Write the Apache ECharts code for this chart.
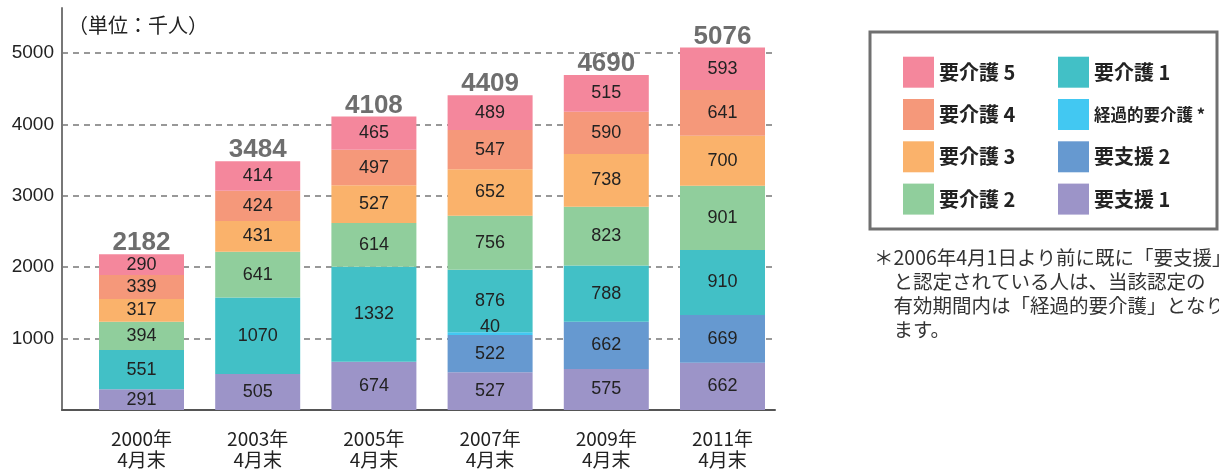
<!DOCTYPE html>
<html>
<head>
<meta charset="utf-8">
<script src="https://cdn.jsdelivr.net/npm/echarts@6/dist/echarts.min.js"></script>
<style>
  html, body { margin: 0; padding: 0; background: #fff; }
  #main { width: 1219px; height: 471px; }
</style>
</head>
<body>
<div id="main"></div>
<script>
  // 年度
  var categories = ['2000年\n4月末', '2003年\n4月末', '2005年\n4月末', '2007年\n4月末', '2009年\n4月末', '2011年\n4月末'];
  // 各区分の人数（千人）
  var shien1 = [291, 505, 674, 527, 575, 662];
  var shien2 = [null, null, null, 522, 662, 669];
  var keika = [null, null, null, 40, null, null];
  var kaigo1 = [551, 1070, 1332, 876, 788, 910];
  var kaigo2 = [394, 641, 614, 756, 823, 901];
  var kaigo3 = [317, 431, 527, 652, 738, 700];
  var kaigo4 = [339, 424, 497, 547, 590, 641];
  var kaigo5 = [290, 414, 465, 489, 515, 593];
  var totals = [2182, 3484, 4108, 4409, 4690, 5076];
  var yTicks = [1000, 2000, 3000, 4000, 5000];

  var FONT = '"Liberation Sans", "Noto Sans CJK JP", sans-serif';
  var JP = '"Noto Sans CJK JP", "Liberation Sans", sans-serif';

  function seg(name, color, data, pos) {
    return {
      name: name,
      type: 'bar',
      stack: 'total',
      xAxisIndex: 1,
      yAxisIndex: 1,
      barWidth: 85,
      itemStyle: { color: color },
      label: {
        show: true,
        position: pos || 'inside',
        distance: 0,
        offset: pos ? [0, 4] : [0, 0],
        color: '#222',
        fontSize: 18,
        fontFamily: FONT,
        formatter: function (p) {
          return p.value > 0 ? p.value : '';
        }
      },
      data: data
    };
  }

  var myChart = echarts.init(document.getElementById('main'));

  var option = {
    animation: false,
    grid: [
      { left: 62, right: 444, top: 8, bottom: 61 },
      { left: 83.4, width: 697.2, top: 8, bottom: 61 }
    ],
    xAxis: [{
      gridIndex: 0,
      type: 'value',
      min: 0,
      max: 1,
      axisLine: { show: true, lineStyle: { color: '#555', width: 2 } },
      axisTick: { show: false },
      axisLabel: { show: false },
      splitLine: { show: false }
    }, {
      gridIndex: 1,
      type: 'category',
      data: categories,
      axisLine: { show: false },
      axisTick: { show: false },
      axisLabel: {
        color: '#222',
        fontSize: 19,
        lineHeight: 21,
        margin: 18,
        fontFamily: JP
      }
    }],
    yAxis: [{
      gridIndex: 0,
      type: 'value',
      min: 0,
      max: 5630,
      interval: 1000,
      axisLine: { show: true, lineStyle: { color: '#777', width: 2 } },
      axisTick: { show: false },
      axisLabel: {
        color: '#222',
        fontSize: 19,
        margin: 8,
        fontFamily: FONT,
        showMinLabel: false,
        showMaxLabel: false,
        formatter: function (v) {
          return yTicks.indexOf(v) >= 0 ? v : '';
        }
      },
      splitLine: {
        show: true,
        showMinLine: false,
        showMaxLine: false,
        lineStyle: { color: '#777', width: 1.5, type: [6, 5] }
      }
    }, {
      gridIndex: 1,
      type: 'value',
      min: 0,
      max: 5630,
      show: false
    }],
    legend: [{
      orient: 'vertical',
      left: 898,
      top: 51.7,
      itemWidth: 31,
      itemHeight: 31,
      itemGap: 11.3,
      icon: 'rect',
      selectedMode: false,
      textStyle: { fontSize: 20, fontWeight: 'bold', color: '#222', fontFamily: JP },
      data: ['要介護 5', '要介護 4', '要介護 3', '要介護 2']
    }, {
      orient: 'vertical',
      left: 1053,
      top: 51.7,
      itemWidth: 31,
      itemHeight: 31,
      itemGap: 11.3,
      icon: 'rect',
      selectedMode: false,
      textStyle: {
        fontSize: 20, fontWeight: 'bold', color: '#222', fontFamily: JP,
        rich: { s: { fontSize: 16.5, fontWeight: 'bold', color: '#222', fontFamily: JP } }
      },
      formatter: function (name) {
        return name === '経過的要介護' ? '{s|' + name + ' *}' : name;
      },
      data: ['要介護 1', '経過的要介護', '要支援 2', '要支援 1']
    }],
    graphic: [{
      type: 'rect',
      shape: { x: 870, y: 32, width: 347, height: 197 },
      style: { fill: 'none', stroke: '#707070', lineWidth: 3 }
    }, {
      type: 'text',
      left: 68,
      top: 15,
      style: { text: '（単位：千人）', fontSize: 20, fill: '#222', fontFamily: JP }
    }, {
      type: 'text',
      x: 874,
      y: 246,
      style: {
        text: '＊2006年4月1日より前に既に「要支援」\n　と認定されている人は、当該認定の\n　有効期間内は「経過的要介護」となり\n　ます。',
        fontSize: 19.5,
        lineHeight: 24,
        fill: '#333',
        fontFamily: JP
      }
    }],
    series: [
      seg('要支援 1', '#9c94c8', shien1),
      seg('要支援 2', '#6699d0', shien2),
      seg('経過的要介護', '#42c8f2', keika, 'top'),
      seg('要介護 1', '#42c0c6', kaigo1),
      seg('要介護 2', '#90ce9c', kaigo2),
      seg('要介護 3', '#fab26b', kaigo3),
      seg('要介護 4', '#f5987a', kaigo4),
      seg('要介護 5', '#f4879c', kaigo5),
      {
        name: '累計',
        type: 'scatter',
        xAxisIndex: 1,
        yAxisIndex: 1,
        symbolSize: 0,
        label: {
          show: true,
          position: 'top',
          distance: -2,
          color: '#4a4a4a',
          fontSize: 26,
          fontWeight: 'bold',
          fontFamily: FONT
        },
        data: totals
      }
    ]
  };
  myChart.setOption(option);
</script>
</body>
</html>
